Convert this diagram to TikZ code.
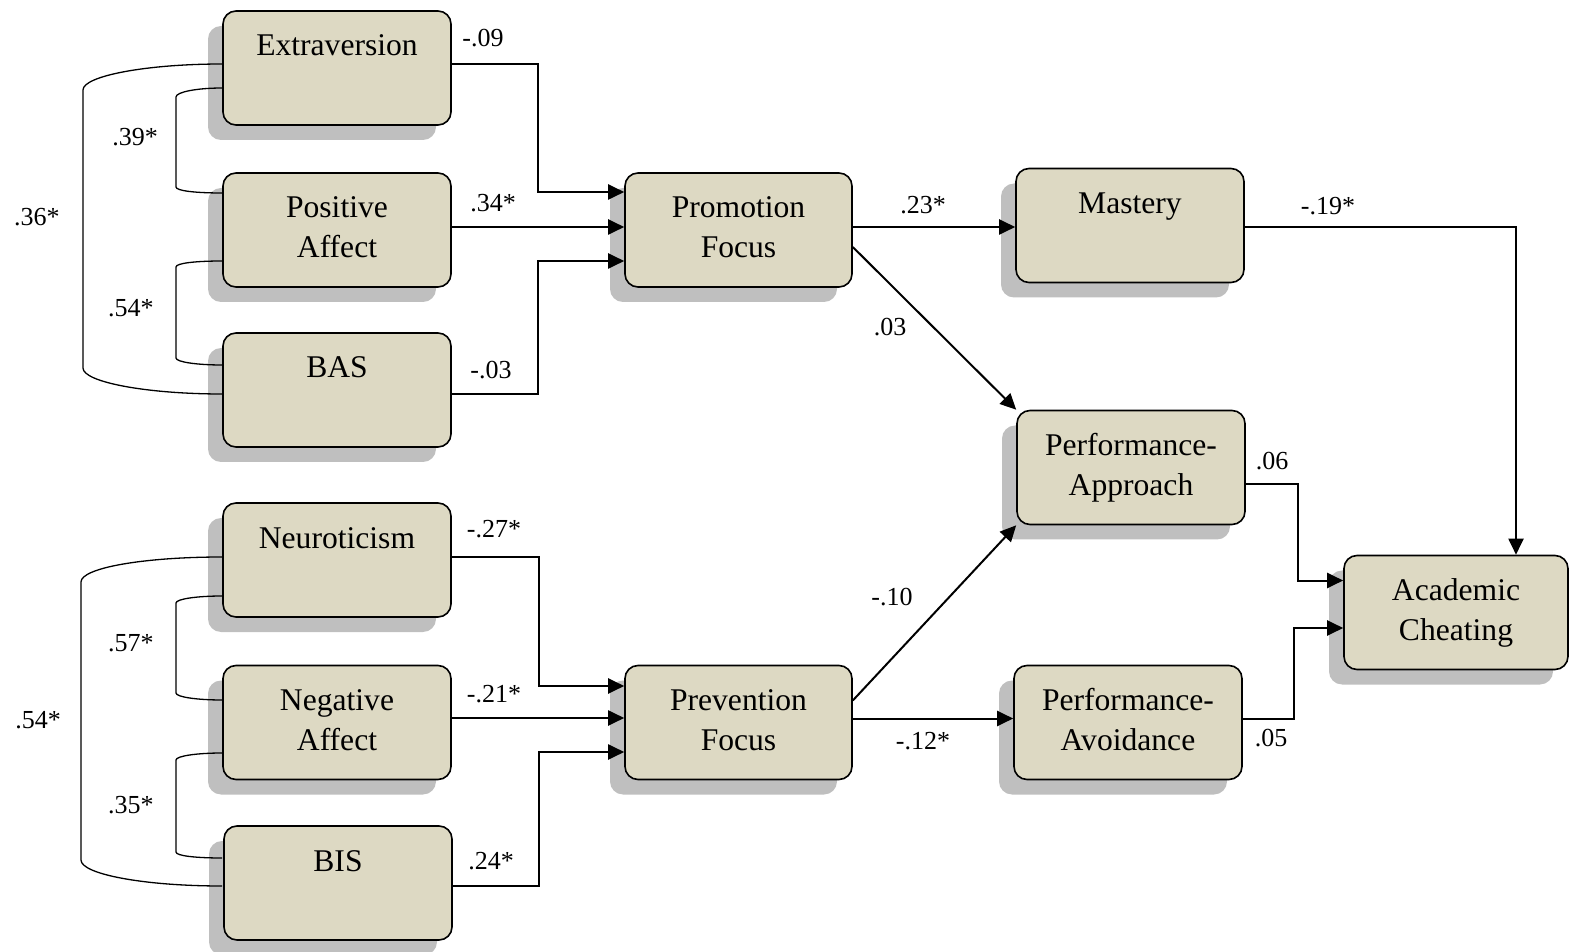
\documentclass[tikz,border=0pt]{standalone}
\usepackage{fontspec}
\setmainfont{Liberation Serif}
\usetikzlibrary{shadows,calc,arrows.meta}
\definecolor{boxfill}{HTML}{DDD9C3}
\definecolor{shadegray}{HTML}{BFBFBF}
\newcommand\vlab[2]{\strut #1\\\strut #2}
\tikzset{
  var/.style={draw=black, line width=0.8pt, fill=boxfill, rounded corners=6.5pt,
    minimum width=114pt, minimum height=57pt, inner sep=0pt, align=center,
    font=\fontsize{15.8}{20}\selectfont,
    general shadow={fill=shadegray, draw=none, shadow xshift=-7.5pt, shadow yshift=-7.5pt}},
  conn/.style={line width=1pt, -{Triangle[length=8pt,width=7.5pt]}},
  corr/.style={line width=0.65pt},
  coef/.style={font=\fontsize{13}{15}\selectfont, inner sep=0pt},
}
\begin{document}
\begin{tikzpicture}[x=0.5pt,y=-0.5pt]
\useasboundingbox (0,0) rectangle (1571,952);
% boxes
\node[var] (ext)  at (337,68)    {\vlab{Extraversion}{}};
\node[var] (posa) at (337,230)   {\vlab{Positive}{Affect}};
\node[var] (bas)  at (337,390)   {\vlab{BAS}{}};
\node[var] (neur) at (337,560)   {\vlab{Neuroticism}{}};
\node[var] (nega) at (337,722.5) {\vlab{Negative}{Affect}};
\node[var] (bis)  at (338,883)   {\vlab{BIS}{}};
\node[var, minimum width=113.5pt] (promo) at (738.5,230)   {\vlab{Promotion}{Focus}};
\node[var, minimum width=113.5pt] (prev)  at (738.5,722.5) {\vlab{Prevention}{Focus}};
\node[var] (mast)    at (1130,225.5) {\vlab{Mastery}{}};
\node[var] (perfapp) at (1131,467.5) {\vlab{Performance-}{Approach}};
\node[var] (perfav)  at (1128,722.5) {\vlab{Performance-}{Avoidance}};
\node[var, minimum width=112pt] (cheat) at (1456,612.5) {\vlab{Academic}{Cheating}};

% directed paths
\draw[conn] ($(ext.east)+(0,-4)$) -| (538,192) -- ($(promo.west)+(0,-38)$);
\draw[conn] ($(posa.east)+(0,-3)$) -- ($(promo.west)+(0,-3)$);
\draw[conn] ($(bas.east)+(0,4)$) -| (538,261) -- ($(promo.west)+(0,31)$);
\draw[conn] ($(promo.east)+(0,-3)$) -- ($(mast.west)+(0,1.5)$);
\draw[conn] ($(promo.east)+(0,17)$) -- (perfapp.north west);
\draw[conn] ($(mast.east)+(0,1.5)$) -| ($(cheat.north)+(60,0)$);
\draw[conn] ($(perfapp.east)+(0,17)$) -| (1298,580.5) -- ($(cheat.west)+(0,-32)$);
\draw[conn] ($(perfav.east)+(0,-3.5)$) -| (1294,628) -- ($(cheat.west)+(0,15.5)$);
\draw[conn] ($(prev.east)+(0,-22)$) -- (perfapp.south west);
\draw[conn] ($(prev.east)+(0,-4)$) -- ($(perfav.west)+(0,-4)$);
\draw[conn] ($(neur.east)+(0,-3)$) -| (539,686) -- ($(prev.west)+(0,-36.5)$);
\draw[conn] ($(nega.east)+(0,-4.5)$) -- ($(prev.west)+(0,-4.5)$);
\draw[conn] ($(bis.east)+(0,3)$) -| (539,752) -- ($(prev.west)+(0,29.5)$);

% correlations
\draw[corr] ($(ext.west)+(0,-4)$) .. controls (146,64) and (83,76) .. (83,90)
  -- (83,368) .. controls (83,382) and (146,394) .. ($(bas.west)+(0,4)$);
\draw[corr] ($(ext.west)+(0,20)$) .. controls (197,88) and (176,92) .. (176,97)
  -- (176,187) .. controls (176,191) and (197,193) .. ($(posa.west)+(0,-37)$);
\draw[corr] ($(posa.west)+(0,31)$) .. controls (197,261) and (176,263) .. (176,267)
  -- (176,358) .. controls (176,362) and (197,365) .. ($(bas.west)+(0,-25)$);
\draw[corr] ($(neur.west)+(0,-3)$) .. controls (143,557) and (81,568) .. (81,582)
  -- (81,860) .. controls (81,874) and (143,886) .. ($(bis.west)+(-1,3)$);
\draw[corr] ($(neur.west)+(0,36)$) .. controls (197,596) and (176,599) .. (176,603)
  -- (176,693) .. controls (176,697) and (197,700) .. ($(nega.west)+(0,-22.5)$);
\draw[corr] ($(nega.west)+(0,30.5)$) .. controls (197,753) and (176,756) .. (176,760)
  -- (176,852) .. controls (176,856) and (197,858) .. ($(bis.west)+(-1,-25)$);

% coefficients
\node[coef] (c1)  at (483,38)  {-.09};
\node[coef] (c2)  at (493,203) {.34*};
\node[coef] (c3)  at (491,370) {-.03};
\node[coef] (c4)  at (923,205) {.23*};
\node[coef] (c5)  at (890,327) {.03};
\node[coef] (c6)  at (1328,206) {-.19*};
\node[coef] (c7)  at (1272,461) {.06};
\node[coef] (c8)  at (1271,738) {.05};
\node[coef] (c9)  at (892,597) {-.10};
\node[coef] (c10) at (923,741) {-.12*};
\node[coef] (c11) at (494,529) {-.27*};
\node[coef] (c12) at (494,694) {-.21*};
\node[coef] (c13) at (491,861) {.24*};
\node[coef] (r1)  at (135,137) {.39*};
\node[coef] (r2)  at (131,308) {.54*};
\node[coef] (r3)  at (37,217)  {.36*};
\node[coef] (r4)  at (131,643) {.57*};
\node[coef] (r5)  at (131,805) {.35*};
\node[coef] (r6)  at (38,720)  {.54*};
\end{tikzpicture}
\end{document}
